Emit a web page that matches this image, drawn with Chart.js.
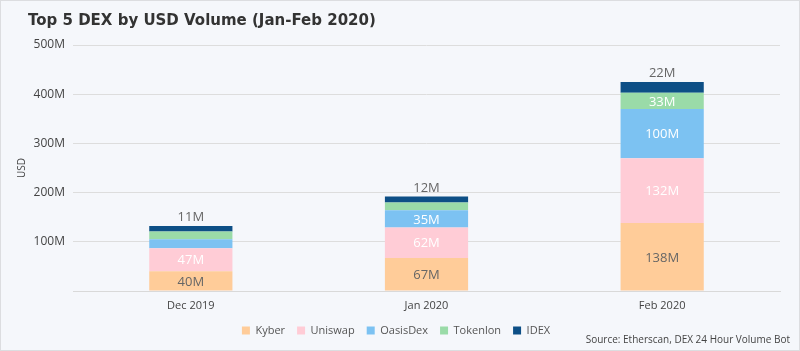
<!DOCTYPE html>
<html>
<head>
<meta charset="utf-8">
<script src="https://cdn.jsdelivr.net/npm/chart.js@4.4.0/dist/chart.umd.min.js"></script>
<style>
  html, body { margin: 0; padding: 0; background: #f5f7fb; }
  #wrap { width: 800px; height: 351px; box-sizing: border-box; border: 1px solid #dcdde0; }
  canvas { display: block; }
</style>
</head>
<body>
<div id="wrap"><canvas id="dexChart" width="798" height="349"></canvas></div>
<script>
const months = ["Dec 2019", "Jan 2020", "Feb 2020"];
const kyber = [40, 67, 138];
const uniswap = [47, 62, 132];
const oasisDex = [18, 35, 100];
const tokenlon = [16, 16, 33];
const idex = [11, 12, 22];

const FONT = "'Open Sans', sans-serif";

// label colour / placement per series; small segments stay unlabelled
const labelStyle = {
  Kyber: { color: "#666666", pos: "center" },
  Uniswap: { color: "#ffffff", pos: "center" },
  OasisDex: { color: "#ffffff", pos: "center", min: 30 },
  Tokenlon: { color: "#ffffff", pos: "center", min: 30 },
  IDEX: { color: "#666666", pos: "top" },
};

const valueLabels = {
  id: "valueLabels",
  afterDatasetsDraw(chart) {
    const ctx = chart.ctx;
    ctx.save();
    ctx.font = "13px " + FONT;
    ctx.textAlign = "center";
    chart.data.datasets.forEach((ds, i) => {
      const st = labelStyle[ds.label];
      chart.getDatasetMeta(i).data.forEach((bar, j) => {
        const v = ds.data[j];
        if (st.min && v < st.min) return;
        ctx.fillStyle = st.color;
        if (st.pos === "top") {
          ctx.textBaseline = "bottom";
          ctx.fillText(v + "M", bar.x, bar.y - 2);
        } else {
          ctx.textBaseline = "middle";
          ctx.fillText(v + "M", bar.x, (bar.y + bar.base) / 2 + 1);
        }
      });
    });
    ctx.restore();
  },
};

const titleAndSource = {
  id: "titleAndSource",
  afterDraw(chart) {
    const ctx = chart.ctx;
    ctx.save();
    ctx.textBaseline = "middle";
    ctx.fillStyle = "#333333";
    ctx.font = "bold 15px 'DejaVu Sans', sans-serif";
    ctx.textAlign = "left";
    ctx.fillText("Top 5 DEX by USD Volume (Jan-Feb 2020)", 27, 20);
    ctx.fillStyle = "#444444";
    ctx.font = "10px " + FONT;
    ctx.textAlign = "right";
    ctx.fillText("Source: Etherscan, DEX 24 Hour Volume Bot", 789, 339);
    ctx.restore();
  },
};

// fixed legend height so the plot keeps its place
const legendHeight = {
  id: "legendHeight",
  beforeInit(chart) {
    const fit = chart.legend.fit;
    chart.legend.fit = function () {
      fit.call(this);
      this.height = 37;
    };
  },
};

new Chart(document.getElementById("dexChart"), {
  type: "bar",
  data: {
    labels: months,
    datasets: [
      { label: "Kyber", data: kyber, backgroundColor: "#ffcc99" },
      { label: "Uniswap", data: uniswap, backgroundColor: "#ffccd6" },
      { label: "OasisDex", data: oasisDex, backgroundColor: "#7cc2f2" },
      { label: "Tokenlon", data: tokenlon, backgroundColor: "#9adba8" },
      { label: "IDEX", data: idex, backgroundColor: "#0d4f86" },
    ],
  },
  options: {
    responsive: false,
    animation: false,
    devicePixelRatio: 1,
    layout: { padding: { left: 11, right: 19, top: 44, bottom: 0 } },
    datasets: { bar: { categoryPercentage: 0.353, barPercentage: 1 } },
    plugins: {
      title: { display: false },
      legend: {
        position: "bottom",
        labels: {
          color: "#555",
          font: { family: FONT, size: 11 },
          boxWidth: 8,
          boxHeight: 8,
          padding: 12,
        },
      },
      tooltip: { enabled: false },
    },
    scales: {
      x: {
        stacked: true,
        afterFit(scale) { scale.height = 22; },
        grid: { display: false, drawTicks: false },
        border: { color: "#d9d9d9" },
        ticks: { color: "#444", font: { family: FONT, size: 11 }, padding: 8 },
      },
      y: {
        stacked: true,
        min: 0,
        max: 500,
        afterFit(scale) { scale.width = 61; },
        grid: { color: "#dddddd", drawTicks: false },
        border: { display: false },
        title: { display: true, text: "USD", color: "#444", font: { family: FONT, size: 10 } },
        ticks: {
          stepSize: 100,
          color: "#444",
          padding: 8,
          font: { family: FONT, size: 12 },
          callback: (v) => (v === 0 ? "" : v + "M"),
        },
      },
    },
  },
  plugins: [valueLabels, titleAndSource, legendHeight],
});
</script>
</body>
</html>
